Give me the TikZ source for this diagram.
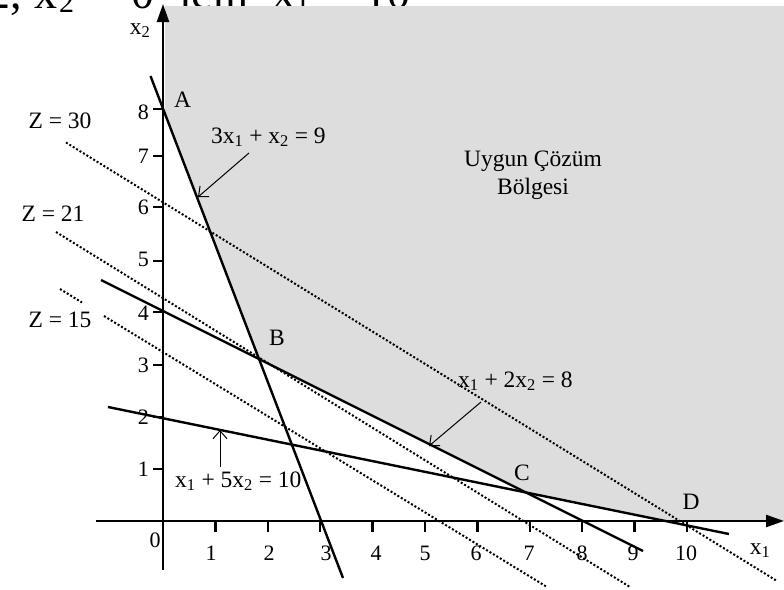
\documentclass[tikz,border=0pt]{standalone}
\usepackage{fontspec}
\setmainfont{Liberation Serif}
\usetikzlibrary{arrows.meta}
\definecolor{regfill}{RGB}{221,221,221}
\newcommand{\fragsub}[1]{\raisebox{-4pt}{\fontsize{30}{30}\selectfont #1}}
\begin{document}
\begin{tikzpicture}[x=1pt,y=-1pt,
  lbl/.style={inner sep=0pt, font=\fontsize{23.5}{28}\selectfont},
  ticklbl/.style={inner sep=0pt, font=\fontsize{22}{26}\selectfont},
  toptext/.style={inner sep=0pt, font=\fontsize{46}{50}\selectfont},
  axisline/.style={line width=2.4pt},
  consline/.style={line width=2.4pt},
  zline/.style={line width=2pt, dash pattern=on 2pt off 2pt},
  noteline/.style={line width=1pt, -{Straight Barb[length=8pt,width=14pt]}},
  tickmark/.style={line width=2.4pt}]
\useasboundingbox (0,0) rectangle (784,589);

% cropped text fragment at the top edge
\node[toptext, anchor=base west] (frag) at (-13,8.5)
  {2,\kern12.5pt x\kern2pt\fragsub{2}\kern16pt=\kern15pt 0\kern25pt için\kern24pt x\fragsub{1}\kern16pt=\kern12pt 10};

% key points
\coordinate (A) at (163.5,110);
\coordinate (B) at (258.9,359);
\coordinate (C) at (525.9,492.5);
\coordinate (D) at (667.4,521);

% feasible region
\fill[regfill] (165,6) -- (165,114) -- (B) -- (C) -- (D) -- (784,521) -- (784,6) -- cycle;

% iso-profit lines
\coordinate (z30a) at (66,142.5);  \coordinate (z30b) at (777,581);
\coordinate (z21a) at (56,232);    \coordinate (z21b) at (630,587);
\coordinate (z15a) at (60,289);    \coordinate (z15b) at (82,302.5);
\coordinate (z15c) at (104,316);   \coordinate (z15d) at (547,587);
\draw[zline] (z30a) -- (z30b);
\draw[zline] (z21a) -- (z21b);
\draw[zline] (z15a) -- (z15b);
\draw[zline] (z15c) -- (z15d);

% constraint lines
\coordinate (c1a) at (150.5,76);  \coordinate (c1b) at (343,578);
\coordinate (c2a) at (101,280);   \coordinate (c2b) at (643,551);
\coordinate (c3a) at (108,407);   \coordinate (c3b) at (729,534);
\draw[consline] (c1a) -- (c1b);
\draw[consline] (c2a) -- (c2b);
\draw[consline] (c3a) -- (c3b);

% axes
\coordinate (xs) at (96,521);  \coordinate (xe) at (784,521);
\coordinate (ys) at (163,570); \coordinate (ye) at (163,4);
\draw[axisline,-{Triangle[length=18pt,width=12pt]}] (xs) -- (xe);
\draw[axisline,-{Triangle[length=18pt,width=12pt]}] (ys) -- (ye);

% x ticks
\foreach \i in {1,...,10}
  \draw[tickmark] ({163+52.4*\i},521) -- ++(0,11);
% y ticks
\foreach \yy in {469,417,365,312,261,207,156,109}
  \draw[tickmark] (163,\yy) -- ++(-10,0);

% x tick labels
\foreach \lx/\t in {211/1,269/2,326/3,376/4,425/5,476/6,529/7,582/8,633/9,686/10}
  \node[ticklbl] (xl\t) at (\lx,553) {\t};
% y tick labels
\foreach \ly/\t in {469/1,417/2,365/3,313/4,259/5,207/6,156/7,112/8}
  \node[ticklbl, anchor=east] (yl\t) at (149,\ly) {\t};
\node[ticklbl] (zero) at (155,540) {0};

% axis labels
\node[lbl, anchor=base] (xonelbl) at (760,554) {x\textsubscript{1}};
\node[lbl, anchor=base] (xtwolbl) at (140,34) {x\textsubscript{2}};

% corner labels
\node[lbl, anchor=base] (Alab) at (182.5,107) {A};
\node[lbl, anchor=base] (Blab) at (277,345) {B};
\node[lbl, anchor=base] (Clab) at (522,480) {C};
\node[lbl, anchor=base] (Dlab) at (691,509) {D};

% Z labels
\node[lbl] (z30lab) at (60,121) {Z = 30};
\node[lbl] (z21lab) at (53,214) {Z = 21};
\node[lbl] (z15lab) at (60,320) {Z = 15};

% region label
\node[lbl, anchor=base] (reg1) at (533,166) {Uygun Çözüm};
\node[lbl, anchor=base] (reg2) at (533,194) {Bölgesi};

% constraint labels and arrows
\node[lbl, anchor=base west] (eq1) at (211,143) {3x\textsubscript{1} + x\textsubscript{2} = 9};
\node[lbl, anchor=base west] (eq2) at (458,387) {x\textsubscript{1} + 2x\textsubscript{2} = 8};
\node[lbl, anchor=base west] (eq3) at (175,487) {x\textsubscript{1} + 5x\textsubscript{2} = 10};

\coordinate (a1s) at (249,153); \coordinate (a1e) at (198,197);
\coordinate (a2s) at (481,402); \coordinate (a2e) at (429,446);
\coordinate (a3s) at (220,467); \coordinate (a3e) at (220,430);
\draw[noteline] (a1s) -- (a1e);
\draw[noteline] (a2s) -- (a2e);
\draw[noteline] (a3s) -- (a3e);
\end{tikzpicture}
\end{document}
